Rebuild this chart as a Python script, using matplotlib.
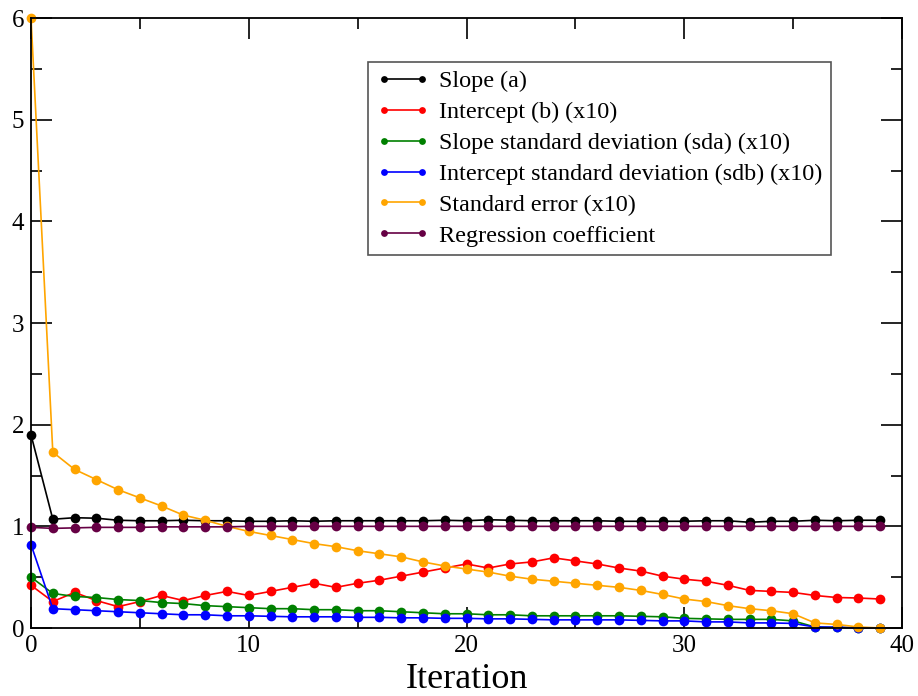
import numpy as np
import matplotlib.pyplot as plt
from matplotlib.ticker import MultipleLocator

plt.rcParams['font.family'] = ['Liberation Serif', 'DejaVu Serif']

iteration = np.arange(40)

slope_a = [1.90, 1.07, 1.085, 1.08, 1.06, 1.055, 1.055, 1.06, 1.055, 1.055,
           1.05, 1.05, 1.055, 1.05, 1.055, 1.055, 1.055, 1.055, 1.055, 1.06,
           1.055, 1.065, 1.06, 1.055, 1.055, 1.055, 1.055, 1.05, 1.05, 1.05,
           1.05, 1.055, 1.055, 1.04, 1.05, 1.05, 1.06, 1.055, 1.06, 1.06]

intercept_b = [0.42, 0.26, 0.35, 0.27, 0.21, 0.26, 0.32, 0.27, 0.32, 0.36,
               0.32, 0.36, 0.40, 0.44, 0.40, 0.44, 0.47, 0.51, 0.55, 0.59,
               0.63, 0.59, 0.63, 0.65, 0.69, 0.66, 0.63, 0.59, 0.56, 0.51,
               0.48, 0.46, 0.42, 0.37, 0.36, 0.35, 0.32, 0.30, 0.295, 0.285]

slope_sd = [0.50, 0.34, 0.31, 0.30, 0.28, 0.27, 0.25, 0.24, 0.22, 0.21,
            0.20, 0.19, 0.19, 0.18, 0.18, 0.17, 0.17, 0.16, 0.15, 0.14,
            0.14, 0.13, 0.13, 0.12, 0.12, 0.12, 0.12, 0.12, 0.115, 0.11,
            0.095, 0.09, 0.085, 0.085, 0.085, 0.07, 0.01, 0.005, 0.0, 0.0]

intercept_sd = [0.82, 0.19, 0.18, 0.17, 0.16, 0.15, 0.14, 0.13, 0.13, 0.12,
                0.12, 0.115, 0.11, 0.11, 0.11, 0.105, 0.105, 0.10, 0.10, 0.095,
                0.095, 0.09, 0.09, 0.085, 0.08, 0.08, 0.08, 0.08, 0.075, 0.07,
                0.07, 0.06, 0.06, 0.05, 0.05, 0.045, 0.01, 0.008, 0.0, 0.0]

std_error = [6.0, 1.73, 1.56, 1.46, 1.36, 1.28, 1.20, 1.11, 1.06, 1.00,
             0.95, 0.91, 0.87, 0.83, 0.80, 0.76, 0.73, 0.70, 0.65, 0.61,
             0.58, 0.55, 0.51, 0.48, 0.46, 0.44, 0.42, 0.40, 0.37, 0.33,
             0.285, 0.26, 0.22, 0.19, 0.17, 0.14, 0.05, 0.035, 0.01, 0.0]

regression = [0.99, 0.98, 0.985, 0.99, 0.99, 0.99, 0.995, 0.995, 0.995, 0.995,
              1.0, 1.0, 1.0, 1.0, 1.0, 1.0, 1.0, 1.0, 1.0, 1.0,
              1.0, 1.0, 1.0, 1.0, 1.0, 1.0, 1.0, 1.0, 1.0, 1.0,
              1.0, 1.0, 1.0, 1.0, 1.0, 1.0, 1.0, 1.0, 1.0, 1.0]

series = [
    (slope_a, 'black', 'Slope (a)'),
    (intercept_b, 'red', 'Intercept (b) (x10)'),
    (slope_sd, 'green', 'Slope standard deviation (sda) (x10)'),
    (intercept_sd, 'blue', 'Intercept standard deviation (sdb) (x10)'),
    (std_error, 'orange', 'Standard error (x10)'),
    (regression, '#660044', 'Regression coefficient'),
]

fig = plt.figure(figsize=(9.18, 6.96), dpi=100)
ax = fig.add_axes([0.0338, 0.0977, 0.9488, 0.8763])

for vals, col, lab in series:
    ax.plot(iteration, vals, color=col, lw=1.2, marker='o', ms=7,
            markeredgewidth=0, label=lab, clip_on=False)

ax.set_xlim(0, 40)
ax.set_ylim(0, 6)
ax.xaxis.set_major_locator(MultipleLocator(10))
ax.xaxis.set_minor_locator(MultipleLocator(5))
ax.yaxis.set_major_locator(MultipleLocator(1))
ax.yaxis.set_minor_locator(MultipleLocator(0.5))
ax.tick_params(which='both', direction='in', top=True, right=True,
               labelsize=18, width=1.2)
ax.tick_params(which='major', length=15, pad=5)
ax.tick_params(which='minor', length=8)
for sp in ax.spines.values():
    sp.set_linewidth(1.3)

ax.set_xlabel('Iteration', fontsize=26, labelpad=4)

leg = ax.legend(loc='upper left', bbox_to_anchor=(0.387, 0.928),
                borderaxespad=0, fontsize=17.4, numpoints=2, markerscale=0.7,
                fancybox=False, framealpha=1, edgecolor='#555555',
                handlelength=2.2, handletextpad=0.4, labelspacing=0.37,
                borderpad=0.35)
leg.get_frame().set_linewidth(1.2)

fig.savefig('out.png', dpi=100)
